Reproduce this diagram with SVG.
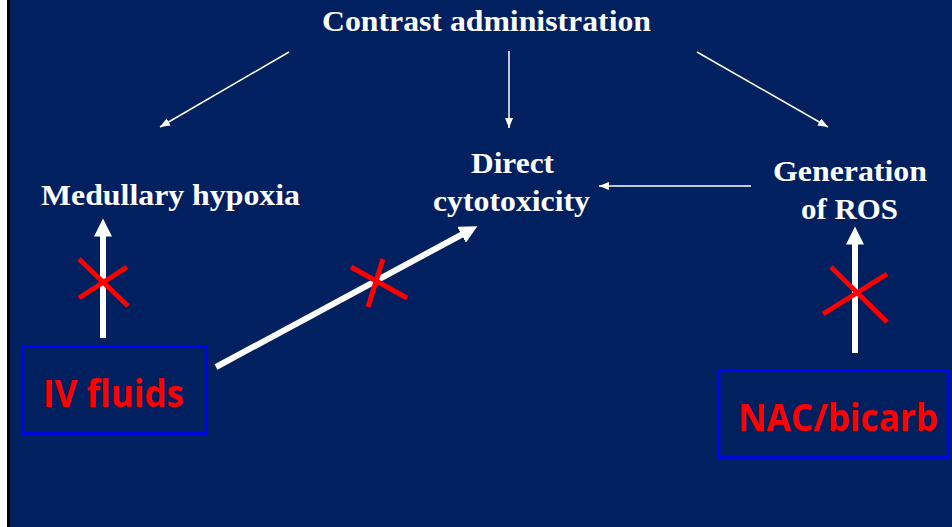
<svg xmlns="http://www.w3.org/2000/svg" width="952" height="527" viewBox="0 0 952 527">
<style>
.lbl{font-family:"Liberation Serif","Times New Roman",serif;font-weight:bold;fill:#ffffff;font-size:30px}
.thin{stroke:#ffffff;stroke-width:1.5;fill:none}
.thick{stroke:#ffffff;stroke-width:6;fill:none}
.cross{stroke:#ff0000;stroke-width:5}
.box{fill:none;stroke:#0000ff;stroke-width:2.5}
.red{font-family:"Open Sans","Liberation Sans",sans-serif;font-weight:bold;fill:#ff0000}
</style>
<defs>
<marker id="hs" markerUnits="userSpaceOnUse" markerWidth="11" markerHeight="9" refX="10" refY="4" orient="auto">
<path d="M0,0 L10,4 L0,8 z" fill="#ffffff"/>
</marker>
<marker id="hb" markerUnits="userSpaceOnUse" markerWidth="19" markerHeight="19" refX="0.5" refY="9" orient="auto">
<path d="M0,0 L18,9 L0,18 z" fill="#ffffff"/>
</marker>
</defs>
<rect x="0" y="0" width="952" height="527" fill="#002060"/>
<rect x="0" y="0" width="7" height="527" fill="#ffffff"/>
<rect x="7" y="0" width="3" height="527" fill="#000000"/>

<g id="contrast"><text class="lbl" x="322" y="31" textLength="329" lengthAdjust="spacingAndGlyphs" font-size="31">Contrast administration</text></g>
<g id="medullary"><text class="lbl" x="41" y="205" textLength="259" lengthAdjust="spacingAndGlyphs">Medullary hypoxia</text></g>
<g id="direct">
<text class="lbl" x="471" y="173" textLength="83" lengthAdjust="spacingAndGlyphs">Direct</text>
<text class="lbl" x="433" y="211" textLength="157" lengthAdjust="spacingAndGlyphs">cytotoxicity</text>
</g>
<g id="ros">
<text class="lbl" x="773" y="181" textLength="154" lengthAdjust="spacingAndGlyphs">Generation</text>
<text class="lbl" x="801" y="219" textLength="97" lengthAdjust="spacingAndGlyphs">of ROS</text>
</g>
<g id="ivfluids">
<rect class="box" x="22.5" y="346.5" width="184" height="87"/>
<text class="red" x="43" y="407" font-size="38" textLength="141" lengthAdjust="spacingAndGlyphs">IV fluids</text>
</g>
<g id="nac">
<rect class="box" x="719" y="370.5" width="229" height="87"/>
<text class="red" x="738" y="431" font-size="37" textLength="200" lengthAdjust="spacingAndGlyphs">NAC/bicarb</text>
</g>

<g id="connectors">
<line class="thin" x1="289" y1="52" x2="160" y2="127" marker-end="url(#hs)"/>
<line class="thin" x1="509" y1="51" x2="509" y2="128" marker-end="url(#hs)"/>
<line class="thin" x1="697" y1="52" x2="828" y2="127" marker-end="url(#hs)"/>
<line class="thin" x1="751" y1="186" x2="599" y2="186" marker-end="url(#hs)"/>
<line class="thick" x1="103" y1="338" x2="103" y2="236" marker-end="url(#hb)"/>
<line class="thick" x1="216" y1="367" x2="462" y2="234.5" marker-end="url(#hb)"/>
<line class="thick" x1="855" y1="353" x2="855" y2="244" marker-end="url(#hb)"/>
</g>

<g id="crosses">
<line class="cross" x1="79" y1="259" x2="128" y2="306"/>
<line class="cross" x1="127" y1="267" x2="79" y2="298"/>
<line class="cross" x1="351" y1="267" x2="407" y2="298"/>
<line class="cross" x1="383" y1="259" x2="368" y2="307"/>
<line class="cross" x1="831" y1="267" x2="887" y2="322"/>
<line class="cross" x1="887" y1="274" x2="823" y2="314"/>
</g>
</svg>
